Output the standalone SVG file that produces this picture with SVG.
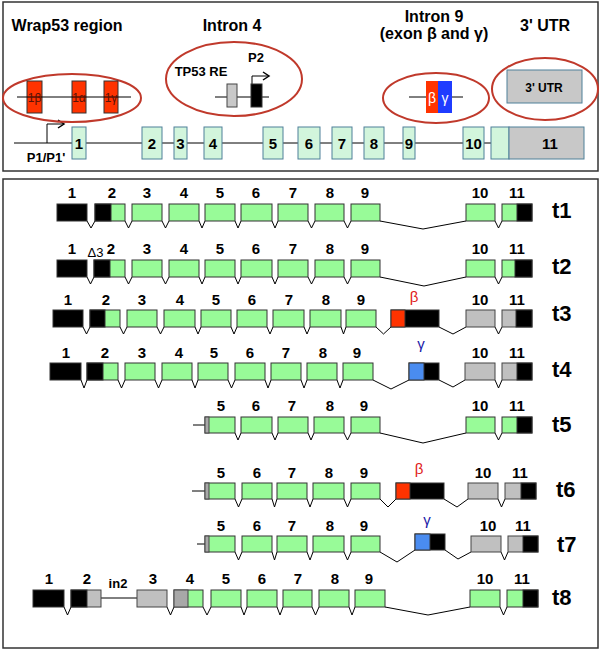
<svg xmlns="http://www.w3.org/2000/svg" width="600" height="650" viewBox="0 0 600 650">
<defs>
<style>
text{font-family:"Liberation Sans",Arial,sans-serif;fill:#000}
.ttl{font-size:16px;font-weight:bold;text-anchor:middle}
.n{font-size:15px;font-weight:bold;text-anchor:middle}
.tl{font-size:22px;font-weight:bold}
.sm{font-size:13px;font-weight:bold;text-anchor:middle}
.ell{fill:none;stroke:#c0392b;stroke-width:2}
.tex{fill:#d2f5dc;stroke:#4f8099;stroke-width:1}
.tgy{fill:#c8c8c8;stroke:#4f8099;stroke-width:1}
.ex{fill:#98fb98;stroke:#333;stroke-width:1}
.bk{fill:#000;stroke:#333;stroke-width:1}
.gy{fill:#c0c0c0;stroke:#444;stroke-width:1}
.gy2{fill:#a8a8a8;stroke:#444;stroke-width:1}
.rd{fill:#ff3300;stroke:#333;stroke-width:1}
.bl{fill:#4a8cf0;stroke:#333;stroke-width:1}
.cn{fill:none;stroke:#000;stroke-width:1}
.frame{fill:#fff;stroke:#333;stroke-width:1.5}
</style>
<marker id="ah" markerWidth="10" markerHeight="10" refX="7" refY="5" orient="auto" markerUnits="userSpaceOnUse">
<path d="M1,1 L7,5 L1,9" fill="none" stroke="#000" stroke-width="1.5"/>
</marker>
</defs>
<rect x="0" y="0" width="600" height="650" fill="#fff"/>
<rect class="frame" x="3" y="2" width="595" height="169"/>
<rect class="frame" x="3" y="179" width="595" height="469"/>

<g id="titles">
<text class="ttl" x="67" y="31">Wrap53 region</text>
<text class="ttl" x="232" y="31">Intron 4</text>
<text class="ttl" x="434" y="22">Intron 9</text>
<text class="ttl" x="434" y="39">(exon β and γ)</text>
<text class="ttl" x="545" y="31">3' UTR</text>
</g>

<g id="connectors">
<line class="cn" x1="14" y1="143" x2="491" y2="143"/>
<polyline class="cn" points="47,143 47,124 64,124" stroke-width="1.5" marker-end="url(#ah)"/>
<line class="cn" x1="215" y1="97" x2="269" y2="97"/>
<polyline class="cn" points="252,84 252,76 269,76" stroke-width="1.5" marker-end="url(#ah)"/>
<line class="cn" x1="409" y1="97" x2="463" y2="97"/>
<polyline class="cn" points="87,221 91,228 95,221"/>
<polyline class="cn" points="125,221 128.5,228 132,221"/>
<polyline class="cn" points="162,221 165.5,228 169,221"/>
<polyline class="cn" points="199,221 202,228 205,221"/>
<polyline class="cn" points="235,221 238,228 241,221"/>
<polyline class="cn" points="272,221 275,228 278,221"/>
<polyline class="cn" points="308,221 311.5,228 315,221"/>
<polyline class="cn" points="344,221 347.5,228 351,221"/>
<polyline class="cn" points="380,221 423,229 466,221"/>
<polyline class="cn" points="495,221 498.5,228 502,221"/>
<polyline class="cn" points="87,277 90.5,284 94,277"/>
<polyline class="cn" points="125,277 128.5,284 132,277"/>
<polyline class="cn" points="162,277 165.5,284 169,277"/>
<polyline class="cn" points="199,277 202,284 205,277"/>
<polyline class="cn" points="235,277 238,284 241,277"/>
<polyline class="cn" points="272,277 275,284 278,277"/>
<polyline class="cn" points="308,277 311.5,284 315,277"/>
<polyline class="cn" points="344,277 347.5,284 351,277"/>
<polyline class="cn" points="380,277 424,286 466,277"/>
<polyline class="cn" points="495,277 498.5,284 502,277"/>
<polyline class="cn" points="83,327 86.5,334 90,327"/>
<polyline class="cn" points="120,327 123.5,334 127,327"/>
<polyline class="cn" points="157,327 160.5,334 164,327"/>
<polyline class="cn" points="195,327 198,334 201,327"/>
<polyline class="cn" points="231,327 234,334 237,327"/>
<polyline class="cn" points="267,327 270,334 273,327"/>
<polyline class="cn" points="304,327 307,334 310,327"/>
<polyline class="cn" points="341,327 343.5,334 346,327"/>
<polyline class="cn" points="376,327 383.5,334 391,327"/>
<polyline class="cn" points="439,327 453,334 466,327"/>
<polyline class="cn" points="495,327 498.5,334 502,327"/>
<polyline class="cn" points="81,380 84,388 87,380"/>
<polyline class="cn" points="118,380 121.5,388 125,380"/>
<polyline class="cn" points="155,380 158.5,388 162,380"/>
<polyline class="cn" points="192,380 195,388 198,380"/>
<polyline class="cn" points="228,380 231.5,388 235,380"/>
<polyline class="cn" points="265,380 268,388 271,380"/>
<polyline class="cn" points="301,380 304,388 307,380"/>
<polyline class="cn" points="337,380 340,388 343,380"/>
<polyline class="cn" points="373,380 391,389 409,380"/>
<polyline class="cn" points="439,380 453,387 465,380"/>
<polyline class="cn" points="495,380 498.5,388 502,380"/>
<line class="cn" x1="193" y1="425" x2="205" y2="425"/>
<polyline class="cn" points="235,433 238,440 241,433"/>
<polyline class="cn" points="272,433 275,440 278,433"/>
<polyline class="cn" points="308,433 311,440 314,433"/>
<polyline class="cn" points="344,433 347.5,440 351,433"/>
<polyline class="cn" points="380,433 423,443 466,433"/>
<polyline class="cn" points="495,433 498.5,440 502,433"/>
<line class="cn" x1="192" y1="491" x2="205" y2="491"/>
<polyline class="cn" points="235,499 238.5,507 242,499"/>
<polyline class="cn" points="272,499 274.5,507 277,499"/>
<polyline class="cn" points="307,499 310,507 313,499"/>
<polyline class="cn" points="344,499 347.5,507 351,499"/>
<polyline class="cn" points="380,499 388,507 396,499"/>
<polyline class="cn" points="444,499 457,507 468,499"/>
<polyline class="cn" points="498,499 501.5,507 505,499"/>
<line class="cn" x1="197" y1="544" x2="205" y2="544"/>
<polyline class="cn" points="235,552 238.5,560 242,552"/>
<polyline class="cn" points="272,552 274.5,560 277,552"/>
<polyline class="cn" points="307,552 310,560 313,552"/>
<polyline class="cn" points="344,552 347.5,560 351,552"/>
<polyline class="cn" points="380,552 397,562 415,550"/>
<polyline class="cn" points="445,550 458,559 471,552"/>
<polyline class="cn" points="501,552 504.5,560 508,552"/>
<polyline class="cn" points="64,607 67.5,615 71,607"/>
<line class="cn" x1="101" y1="598" x2="137" y2="598"/>
<polyline class="cn" points="167,607 170.5,615 174,607"/>
<polyline class="cn" points="203,607 207,615 211,607"/>
<polyline class="cn" points="241,607 244,615 247,607"/>
<polyline class="cn" points="277,607 280,615 283,607"/>
<polyline class="cn" points="312,607 315.5,615 319,607"/>
<polyline class="cn" points="349,607 352,615 355,607"/>
<polyline class="cn" points="385,607 428,615 470,607"/>
<polyline class="cn" points="500,607 503.5,615 507,607"/>
</g>

<g id="wrap53">
<ellipse class="ell" cx="72" cy="98" rx="69" ry="24"/>
<rect class="rd" x="27" y="81" width="15" height="32" stroke="#a02010"/>
<rect class="rd" x="72" y="81" width="14" height="32" stroke="#a02010"/>
<rect class="rd" x="104" y="81" width="14" height="32" stroke="#a02010"/>
<line class="cn" x1="17" y1="97" x2="131" y2="97"/>
<text x="34.5" y="102" font-size="12" text-anchor="middle" style="fill:#5a1208">1β</text>
<text x="79" y="102" font-size="12" text-anchor="middle" style="fill:#5a1208">1α</text>
<text x="111" y="102" font-size="12" text-anchor="middle" style="fill:#5a1208">1γ</text>
</g>
<g id="intron4">
<ellipse class="ell" cx="234" cy="79" rx="68" ry="37"/>
<rect x="227" y="84" width="10" height="23" fill="#c8c8c8" stroke="#444"/>
<rect x="251" y="84" width="11" height="23" fill="#000" stroke="#333"/>
<text class="sm" x="201" y="76">TP53 RE</text>
<text class="sm" x="256" y="62">P2</text>
</g>
<g id="intron9">
<ellipse class="ell" cx="436" cy="98" rx="53" ry="25"/>
<rect x="426" y="81" width="12" height="32" fill="#ff3300"/>
<rect x="438" y="81" width="14" height="32" fill="#1f3cff"/>
<text x="432" y="103" font-size="14" text-anchor="middle" style="fill:#fff">β</text>
<text x="445" y="103" font-size="14" text-anchor="middle" style="fill:#fff">γ</text>
</g>
<g id="utr">
<ellipse class="ell" cx="545" cy="89" rx="53" ry="31"/>
<rect class="tgy" x="507" y="70" width="75" height="33"/>
<text x="544" y="92" font-size="12" font-weight="bold" text-anchor="middle">3' UTR</text>
</g>
<g id="gene">
<rect class="tex" x="72" y="127" width="14" height="32"/>
<rect class="tex" x="142" y="127" width="20" height="32"/>
<rect class="tex" x="174" y="127" width="13" height="32"/>
<rect class="tex" x="204" y="127" width="18" height="32"/>
<rect class="tex" x="263" y="127" width="20" height="32"/>
<rect class="tex" x="298" y="127" width="22" height="32"/>
<rect class="tex" x="332" y="127" width="20" height="32"/>
<rect class="tex" x="364" y="127" width="20" height="32"/>
<rect class="tex" x="403" y="127" width="12" height="32"/>
<rect class="tex" x="463" y="127" width="21" height="32"/>
<rect class="tex" x="491" y="127" width="18" height="32"/>
<rect class="tgy" x="509" y="127" width="75" height="32"/>
<text class="n" x="79" y="149">1</text>
<text class="n" x="152" y="149">2</text>
<text class="n" x="180.5" y="149">3</text>
<text class="n" x="213" y="149">4</text>
<text class="n" x="273" y="149">5</text>
<text class="n" x="309" y="149">6</text>
<text class="n" x="342" y="149">7</text>
<text class="n" x="374" y="149">8</text>
<text class="n" x="409" y="149">9</text>
<text class="n" x="473.5" y="149">10</text>
<text class="n" x="550" y="149">11</text>
<text x="46" y="162" font-size="13" font-weight="bold" text-anchor="middle">P1/P1'</text>
</g>

<g id="t1">
<rect class="bk" x="57" y="204" width="30" height="17"/>
<rect class="ex" x="95" y="204" width="30" height="17"/><rect class="bk" x="95" y="204" width="16" height="17"/>
<rect class="ex" x="132" y="204" width="30" height="17"/>
<rect class="ex" x="169" y="204" width="30" height="17"/>
<rect class="ex" x="205" y="204" width="30" height="17"/>
<rect class="ex" x="241" y="204" width="31" height="17"/>
<rect class="ex" x="278" y="204" width="30" height="17"/>
<rect class="ex" x="315" y="204" width="29" height="17"/>
<rect class="ex" x="351" y="204" width="29" height="17"/>
<rect class="ex" x="466" y="204" width="29" height="17"/>
<rect class="ex" x="502" y="204" width="30" height="17"/><rect class="bk" x="517" y="204" width="15" height="17"/>
<text class="n" x="72" y="198">1</text><text class="n" x="112" y="198">2</text><text class="n" x="147" y="198">3</text><text class="n" x="184" y="198">4</text><text class="n" x="220" y="198">5</text><text class="n" x="256" y="198">6</text><text class="n" x="293" y="198">7</text><text class="n" x="330" y="198">8</text><text class="n" x="365" y="198">9</text><text class="n" x="480" y="198">10</text><text class="n" x="517" y="198">11</text>
<text class="tl" x="552" y="218">t1</text>
</g>
<g id="t2">
<rect class="bk" x="57" y="260" width="30" height="17"/>
<rect class="ex" x="94" y="260" width="31" height="17"/><rect class="bk" x="94" y="260" width="16" height="17"/>
<rect class="ex" x="132" y="260" width="30" height="17"/>
<rect class="ex" x="169" y="260" width="30" height="17"/>
<rect class="ex" x="205" y="260" width="30" height="17"/>
<rect class="ex" x="241" y="260" width="31" height="17"/>
<rect class="ex" x="278" y="260" width="30" height="17"/>
<rect class="ex" x="315" y="260" width="29" height="17"/>
<rect class="ex" x="351" y="260" width="29" height="17"/>
<rect class="ex" x="466" y="260" width="29" height="17"/>
<rect class="ex" x="502" y="260" width="30" height="17"/><rect class="bk" x="515" y="260" width="17" height="17"/>
<text class="n" x="72" y="254">1</text>
<text x="95.5" y="257" font-size="13" text-anchor="middle">Δ3</text>
<text class="n" x="111" y="254">2</text><text class="n" x="147" y="254">3</text><text class="n" x="184" y="254">4</text><text class="n" x="220" y="254">5</text><text class="n" x="256" y="254">6</text><text class="n" x="293" y="254">7</text><text class="n" x="330" y="254">8</text><text class="n" x="365" y="254">9</text><text class="n" x="480" y="254">10</text><text class="n" x="517" y="254">11</text>
<text class="tl" x="552" y="274">t2</text>
</g>
<g id="t3">
<rect class="bk" x="53" y="310" width="30" height="17"/>
<rect class="ex" x="90" y="310" width="30" height="17"/><rect class="bk" x="90" y="310" width="15" height="17"/>
<rect class="ex" x="127" y="310" width="30" height="17"/>
<rect class="ex" x="164" y="310" width="31" height="17"/>
<rect class="ex" x="201" y="310" width="30" height="17"/>
<rect class="ex" x="237" y="310" width="30" height="17"/>
<rect class="ex" x="273" y="310" width="31" height="17"/>
<rect class="ex" x="310" y="310" width="31" height="17"/>
<rect class="ex" x="346" y="310" width="30" height="17"/>
<rect class="bk" x="391" y="310" width="48" height="17"/><rect class="rd" x="391" y="310" width="14" height="17"/>
<rect class="gy" x="466" y="310" width="29" height="17"/>
<rect class="gy" x="502" y="310" width="30" height="17"/><rect class="bk" x="516" y="310" width="16" height="17"/>
<text class="n" x="68" y="305">1</text><text class="n" x="106" y="305">2</text><text class="n" x="142" y="305">3</text><text class="n" x="180" y="305">4</text><text class="n" x="216" y="305">5</text><text class="n" x="252" y="305">6</text><text class="n" x="289" y="305">7</text><text class="n" x="326" y="305">8</text><text class="n" x="361" y="305">9</text>
<text x="414" y="302" font-size="15" text-anchor="middle" style="fill:#e02020">β</text>
<text class="n" x="480" y="305">10</text><text class="n" x="517" y="305">11</text>
<text class="tl" x="552" y="321">t3</text>
</g>
<g id="t4">
<rect class="bk" x="50" y="363" width="31" height="17"/>
<rect class="ex" x="87" y="363" width="31" height="17"/><rect class="bk" x="87" y="363" width="16" height="17"/>
<rect class="ex" x="125" y="363" width="30" height="17"/>
<rect class="ex" x="162" y="363" width="30" height="17"/>
<rect class="ex" x="198" y="363" width="30" height="17"/>
<rect class="ex" x="235" y="363" width="30" height="17"/>
<rect class="ex" x="271" y="363" width="30" height="17"/>
<rect class="ex" x="307" y="363" width="30" height="17"/>
<rect class="ex" x="343" y="363" width="30" height="17"/>
<rect class="bk" x="409" y="363" width="30" height="17"/><rect class="bl" x="409" y="363" width="15" height="17"/>
<rect class="gy" x="465" y="363" width="30" height="17"/>
<rect class="gy" x="502" y="363" width="30" height="17"/><rect class="bk" x="517" y="363" width="15" height="17"/>
<text class="n" x="66" y="358">1</text><text class="n" x="105" y="358">2</text><text class="n" x="142" y="358">3</text><text class="n" x="179" y="358">4</text><text class="n" x="214" y="358">5</text><text class="n" x="250" y="358">6</text><text class="n" x="286" y="358">7</text><text class="n" x="323" y="358">8</text><text class="n" x="357" y="358">9</text>
<text x="421" y="349" font-size="15" text-anchor="middle" style="fill:#1a1aa8">γ</text>
<text class="n" x="480" y="358">10</text><text class="n" x="517" y="358">11</text>
<text class="tl" x="552" y="377">t4</text>
</g>
<g id="t5">
<rect class="ex" x="205" y="417" width="30" height="16"/><rect class="gy2" x="205" y="417" width="4" height="16"/>
<rect class="ex" x="241" y="417" width="31" height="16"/>
<rect class="ex" x="278" y="417" width="30" height="16"/>
<rect class="ex" x="314" y="417" width="30" height="16"/>
<rect class="ex" x="351" y="417" width="29" height="16"/>
<rect class="ex" x="466" y="417" width="29" height="16"/>
<rect class="ex" x="502" y="417" width="30" height="16"/><rect class="bk" x="517" y="417" width="15" height="16"/>
<text class="n" x="221" y="411">5</text><text class="n" x="256" y="411">6</text><text class="n" x="292" y="411">7</text><text class="n" x="330" y="411">8</text><text class="n" x="364" y="411">9</text><text class="n" x="480" y="411">10</text><text class="n" x="517" y="411">11</text>
<text class="tl" x="552" y="432">t5</text>
</g>
<g id="t6">
<rect class="ex" x="205" y="483" width="30" height="16"/><rect class="gy2" x="205" y="483" width="4" height="16"/>
<rect class="ex" x="242" y="483" width="30" height="16"/>
<rect class="ex" x="277" y="483" width="30" height="16"/>
<rect class="ex" x="313" y="483" width="31" height="16"/>
<rect class="ex" x="351" y="483" width="29" height="16"/>
<rect class="bk" x="396" y="483" width="48" height="16"/><rect class="rd" x="396" y="483" width="14" height="16"/>
<rect class="gy" x="468" y="483" width="30" height="16"/>
<rect class="gy" x="505" y="483" width="31" height="16"/><rect class="bk" x="521" y="483" width="15" height="16"/>
<text class="n" x="221" y="478">5</text><text class="n" x="257" y="478">6</text><text class="n" x="292" y="478">7</text><text class="n" x="329" y="478">8</text><text class="n" x="364" y="478">9</text>
<text x="419" y="474" font-size="15" text-anchor="middle" style="fill:#e02020">β</text>
<text class="n" x="483" y="478">10</text><text class="n" x="520" y="478">11</text>
<text class="tl" x="556" y="497">t6</text>
</g>
<g id="t7">
<rect class="ex" x="205" y="536" width="30" height="16"/><rect class="gy2" x="205" y="536" width="4" height="16"/>
<rect class="ex" x="242" y="536" width="30" height="16"/>
<rect class="ex" x="277" y="536" width="30" height="16"/>
<rect class="ex" x="313" y="536" width="31" height="16"/>
<rect class="ex" x="351" y="536" width="29" height="16"/>
<rect class="bk" x="415" y="534" width="30" height="16"/><rect class="bl" x="415" y="534" width="15" height="16"/>
<rect class="gy" x="471" y="536" width="30" height="16"/>
<rect class="gy" x="508" y="536" width="30" height="16"/><rect class="bk" x="523" y="536" width="15" height="16"/>
<text class="n" x="221" y="531">5</text><text class="n" x="257" y="531">6</text><text class="n" x="292" y="531">7</text><text class="n" x="330" y="531">8</text><text class="n" x="364" y="531">9</text>
<text x="427" y="525" font-size="15" text-anchor="middle" style="fill:#1a1aa8">γ</text>
<text class="n" x="488" y="531">10</text><text class="n" x="523" y="531">11</text>
<text class="tl" x="557" y="552">t7</text>
</g>
<g id="t8">
<rect class="bk" x="33" y="590" width="31" height="17"/>
<rect class="gy" x="71" y="590" width="30" height="17"/><rect class="bk" x="71" y="590" width="16" height="17"/>
<rect class="gy" x="137" y="590" width="30" height="17"/>
<rect class="ex" x="174" y="590" width="29" height="17"/><rect class="gy2" x="174" y="590" width="14" height="17"/>
<rect class="ex" x="211" y="590" width="30" height="17"/>
<rect class="ex" x="247" y="590" width="30" height="17"/>
<rect class="ex" x="283" y="590" width="29" height="17"/>
<rect class="ex" x="319" y="590" width="30" height="17"/>
<rect class="ex" x="355" y="590" width="30" height="17"/>
<rect class="ex" x="470" y="590" width="30" height="17"/>
<rect class="ex" x="507" y="590" width="31" height="17"/><rect class="bk" x="523" y="590" width="15" height="17"/>
<text class="n" x="49" y="584">1</text><text class="n" x="87" y="584">2</text>
<text class="sm" x="118" y="588">in2</text>
<text class="n" x="153" y="584">3</text><text class="n" x="190" y="584">4</text><text class="n" x="226" y="584">5</text><text class="n" x="262" y="584">6</text><text class="n" x="298" y="584">7</text><text class="n" x="335" y="584">8</text><text class="n" x="369" y="584">9</text><text class="n" x="485" y="584">10</text><text class="n" x="522" y="584">11</text>
<text class="tl" x="552" y="605">t8</text>
</g>
</svg>
